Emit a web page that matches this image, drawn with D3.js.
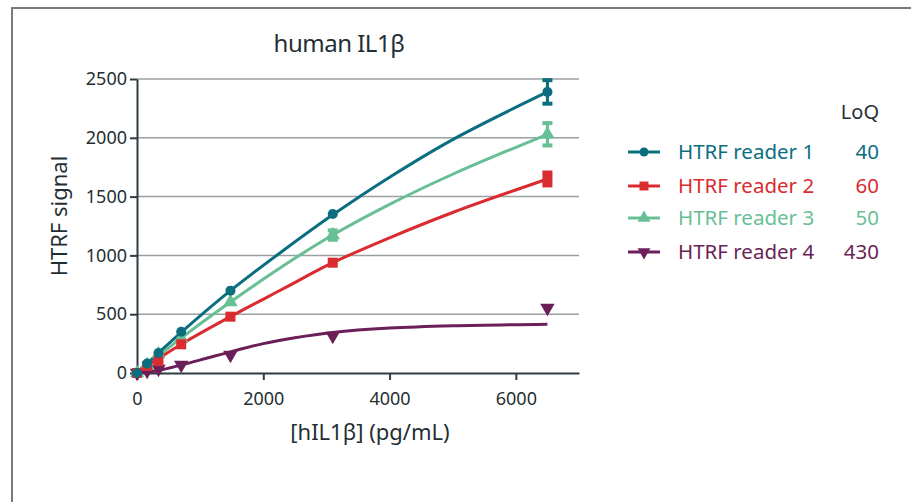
<!DOCTYPE html>
<html>
<head>
<meta charset="utf-8">
<script src="https://cdn.jsdelivr.net/npm/d3@7.9.0/dist/d3.min.js"></script>
<style>
  body { margin: 0; background: #fff; }
  svg { display: block; }
  text { font-family: "Noto Sans", "Open Sans", sans-serif; fill: #1f2f33; }
</style>
</head>
<body>
<svg id="chart" width="911" height="502"></svg>
<script>
// measured points
const concentrations = [0, 160, 340, 700, 1480, 3100, 6500];
const reader1 = [0, 80, 170, 351, 700, 1352, 2390];
const reader2 = [0, 60, 100, 244, 479, 938, 1650];
const reader3 = [0, 70, 160, 297, 603, 1173, 2030];
const reader4 = [0, 17, 34, 68, 153, 315, 553];
const reader1Err = [0, 0, 0, 0, 0, 0, 100];
const reader2Err = [0, 0, 0, 0, 0, 0, 55];
const reader3Err = [0, 0, 0, 0, 0, 40, 95];
const reader4Err = [0, 0, 0, 0, 0, 0, 0];

// fitted curves
const fitX = [0, 700, 1480, 2300, 3100, 4000, 5000, 6500];
const fit1 = [0, 345, 700, 1035, 1345, 1665, 1985, 2390];
const fit2 = [0, 244, 479, 712, 938, 1150, 1365, 1650];
const fit3 = [0, 297, 603, 906, 1173, 1434, 1690, 2030];
const fit4X = [0, 340, 700, 1100, 1480, 2000, 2500, 3100, 4000, 5000, 6500];
const fit4 = [0, 22, 68, 125, 180, 250, 300, 345, 382, 402, 415];

const names = ['HTRF reader 1', 'HTRF reader 2', 'HTRF reader 3', 'HTRF reader 4'];
const loq = ['40', '60', '50', '430'];
const colors = ['#0b6e7f', '#d92b30', '#68bf95', '#6b1f58'];

const xTicks = [0, 2000, 4000, 6000];
const yTicks = [0, 500, 1000, 1500, 2000, 2500];

const series = [
    { pts: reader1, err: reader1Err, fx: fitX, fy: fit1, sym: d3.symbolCircle, size: 80, rot: 0 },
    { pts: reader2, err: reader2Err, fx: fitX, fy: fit2, sym: d3.symbolSquare, size: 100, rot: 0 },
    { pts: reader3, err: reader3Err, fx: fitX, fy: fit3, sym: d3.symbolTriangle, size: 90, rot: 0 },
    { pts: reader4, err: reader4Err, fx: fit4X, fy: fit4, sym: d3.symbolTriangle, size: 90, rot: 180 },
];

const svg = d3.select('#chart');

// frame
svg.append('path')
    .attr('d', 'M12,502 L12,8 L911,8')
    .attr('fill', 'none')
    .attr('stroke', '#7a7a7a')
    .attr('stroke-width', 2);

const x = d3.scaleLinear().domain([0, 7000]).range([137, 579]);
const y = d3.scaleLinear().domain([0, 2500]).range([373, 79]);

// grid
svg.append('g')
    .selectAll('line')
    .data(yTicks.slice(1))
    .join('line')
    .attr('x1', x(0)).attr('x2', x(7000))
    .attr('y1', d => y(d)).attr('y2', d => y(d))
    .attr('stroke', '#9a9fa0')
    .attr('stroke-width', 1.5);

const axisColor = '#2f3d42';

const xAxis = svg.append('g')
    .attr('transform', `translate(0,${y(0)})`)
    .call(d3.axisBottom(x).tickValues(xTicks).tickFormat(d3.format('d'))
        .tickSize(7).tickPadding(12).tickSizeOuter(0));
const yAxis = svg.append('g')
    .attr('transform', `translate(${x(0)},0)`)
    .call(d3.axisLeft(y).tickValues(yTicks).tickFormat(d3.format('d'))
        .tickSize(7).tickPadding(3).tickSizeOuter(0));

[xAxis, yAxis].forEach(g => {
    g.select('.domain').attr('stroke', axisColor).attr('stroke-width', 2);
    g.selectAll('.tick line').attr('stroke', axisColor).attr('stroke-width', 2);
    g.selectAll('.tick text')
        .attr('font-family', '"Noto Sans", sans-serif')
        .attr('font-size', 18)
        .attr('fill', '#1f2f33');
});

// curves
const line = d3.line().curve(d3.curveCatmullRom.alpha(0.5));
series.slice().reverse().forEach((s, ri) => {
    let i = series.length - 1 - ri;
    let pts = s.fx.map((v, k) => [x(v), y(s.fy[k])]);
    svg.append('path')
        .attr('d', line(pts))
        .attr('fill', 'none')
        .attr('stroke', colors[i])
        .attr('stroke-width', 3);
});

// error bars + markers
series.slice().reverse().forEach((s, ri) => {
    let i = series.length - 1 - ri;
    let g = svg.append('g');
    concentrations.forEach((c, k) => {
        let e = s.err[k];
        if (e > 0) {
            let cx = x(c);
            g.append('line')
                .attr('x1', cx).attr('x2', cx)
                .attr('y1', y(s.pts[k] - e)).attr('y2', y(s.pts[k] + e))
                .attr('stroke', colors[i]).attr('stroke-width', 3);
            [s.pts[k] - e, s.pts[k] + e].forEach(v => {
                g.append('line')
                    .attr('x1', cx - 5).attr('x2', cx + 5)
                    .attr('y1', y(v)).attr('y2', y(v))
                    .attr('stroke', colors[i]).attr('stroke-width', 4);
            });
        }
        g.append('path')
            .attr('d', d3.symbol().type(s.sym).size(s.size)())
            .attr('transform', `translate(${x(c)},${y(s.pts[k])}) rotate(${s.rot})`)
            .attr('fill', colors[i]);
    });
});

// title
svg.append('text')
    .attr('x', 339).attr('y', 52)
    .attr('text-anchor', 'middle')
    .attr('font-size', 24)
    .style('letter-spacing', '-0.5px')
    .text('human IL1β');

// axis titles
svg.append('text')
    .attr('x', 370).attr('y', 440)
    .attr('text-anchor', 'middle')
    .attr('font-size', 22)
    .text('[hIL1β] (pg/mL)');

svg.append('text')
    .attr('transform', 'translate(67,216) rotate(-90)')
    .attr('text-anchor', 'middle')
    .attr('font-size', 22)
    .text('HTRF signal');

// legend
svg.append('text')
    .attr('x', 879).attr('y', 119)
    .attr('text-anchor', 'end')
    .attr('font-size', 20)
    .text('LoQ');

const legendY = [152, 186, 218, 252];
series.forEach((s, i) => {
    let ly = legendY[i];
    svg.append('line')
        .attr('x1', 628).attr('x2', 660)
        .attr('y1', ly).attr('y2', ly)
        .attr('stroke', colors[i]).attr('stroke-width', 3);
    svg.append('path')
        .attr('d', d3.symbol().type(s.sym).size(s.size * 0.8)())
        .attr('transform', `translate(644,${ly}) rotate(${s.rot})`)
        .attr('fill', colors[i]);
    svg.append('text')
        .attr('x', 678).attr('y', ly + 7)
        .attr('font-size', 20.5)
        .style('fill', colors[i])
        .text(names[i]);
    svg.append('text')
        .attr('x', 879).attr('y', ly + 7)
        .attr('text-anchor', 'end')
        .attr('font-size', 20.5)
        .style('fill', colors[i])
        .text(loq[i]);
});
</script>
</body>
</html>
